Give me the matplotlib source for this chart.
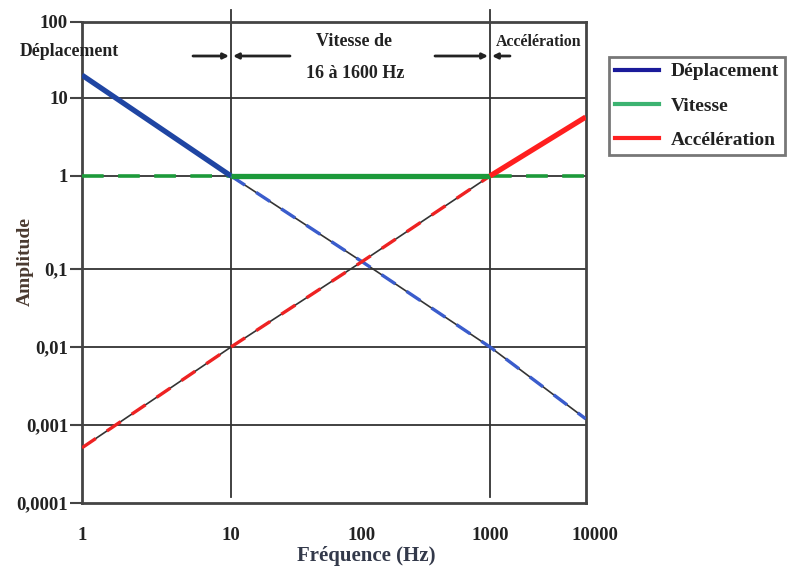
import numpy as np
import matplotlib
matplotlib.use("Agg")
import matplotlib.pyplot as plt
import matplotlib.transforms as mtransforms
from matplotlib.lines import Line2D

# ---- data ----
freq = [1, 10, 100, 1000, 10000]
deplacement = [20, 1, 0.12, 0.01, 0.0012]
vitesse = [1, 1, 1, 1, 1]
acceleration = [0.00051, 0.01, 0.12, 1, 5.7]
x_ticks = [1, 10, 100, 1000, 10000]
x_ticklabels = ["1", "10", "100", "1000", "10000"]
y_ticks = [1e-4, 1e-3, 1e-2, 1e-1, 1, 10, 100]
y_ticklabels = ["0,0001", "0,001", "0,01", "0,1", "1", "10", "100"]
zone_edges = [10, 1000]
legend_labels = ["Déplacement", "Vitesse", "Accélération"]

# non-uniform decade spacing of the original drawing
xdec = [0, 1, 2, 3, 4]
xpos = [82, 231, 362, 490, 585.7]
ydec = [-4, -3, -2, -1, 0, 1, 2]
ypos = [-503, -425, -347, -269, -176, -98, -22]

def fx(v):
    return np.interp(np.log10(np.clip(v, 1e-12, None)), xdec, xpos)
def ifx(p):
    return 10 ** np.interp(p, xpos, xdec)
def fy(v):
    return np.interp(np.log10(np.clip(v, 1e-12, None)), ydec, ypos)
def ify(p):
    return 10 ** np.interp(p, ypos, ydec)

plt.rcParams['font.family'] = ['Liberation Serif', 'DejaVu Serif']
plt.rcParams['font.weight'] = 'bold'

fig = plt.figure(figsize=(7.89, 5.70), dpi=100)
L, R, T, B = 82, 585.7, 22, 503
ax = fig.add_axes([L / 789, 1 - B / 570, (R - L) / 789, (B - T) / 570])
ax.set_xscale('function', functions=(fx, ifx))
ax.set_yscale('function', functions=(fy, ify))
ax.set_xlim(1, 10000)
ax.set_ylim(1e-4, 100)

for s in ax.spines.values():
    s.set_color('#444444')
    s.set_linewidth(2)

# grid lines
for yv in [10, 1, 0.1, 0.01, 0.001]:
    ax.axhline(yv, color='#333333', lw=1.3, zorder=1)
for xv in zone_edges:
    ax.axvline(xv, ymin=0.0125, ymax=1.025, color='#333333', lw=1.3,
               clip_on=False, zorder=1)

blue = '#1f45a3'
green = '#1c9a3a'
red = '#ff1f1f'

# thin dashed extensions (black line with coloured dashes)
ax.plot(freq[1:], deplacement[1:], color='#333333', lw=1.2, zorder=2)
ax.plot(freq[1:], deplacement[1:], color='#3a5ccc', lw=2.4, ls=(0, (5, 4)), zorder=3)
ax.plot(freq[:4], acceleration[:4], color='#333333', lw=1.2, zorder=2)
ax.plot(freq[:4], acceleration[:4], color='#ee2222', lw=2.4, ls=(0, (5, 4)), zorder=3)
ax.plot(freq[:2], vitesse[:2], color=green, lw=2.6, ls=(0, (6, 4)), zorder=3)
ax.plot(freq[3:], vitesse[3:], color=green, lw=2.6, ls=(0, (6, 4)), zorder=3)

# thick solid segments
ax.plot(freq[:2], deplacement[:2], color=blue, lw=3.8, zorder=4, solid_capstyle='butt')
ax.plot(freq[1:4], vitesse[1:4], color=green, lw=3.8, zorder=4, solid_capstyle='butt')
ax.plot(freq[3:], acceleration[3:], color=red, lw=3.8, zorder=4, solid_capstyle='butt')

ax.set_xticks(x_ticks)
ax.set_xticklabels(x_ticklabels)
ax.set_yticks(y_ticks)
ax.set_yticklabels(y_ticklabels)
ax.minorticks_off()
ax.tick_params(axis='x', length=0, pad=17, labelsize=13.5, colors='#222222')
ax.tick_params(axis='y', length=9, width=1.5, color='#444444', pad=1,
               labelsize=13.5, labelcolor='#222222')
# last x label sits slightly right of the axis end in the original
lab = ax.get_xticklabels()[-1]
lab.set_transform(lab.get_transform() +
                  mtransforms.ScaledTranslation(9 / 100, 0, fig.dpi_scale_trans))

# axis labels
fig.text(25 / 789, 1 - 262 / 570, "Amplitude", rotation=90, ha='center', va='center',
         fontsize=14, fontweight='bold', color='#4a3a30')
fig.text(366 / 789, 1 - 556 / 570, "Fréquence (Hz)", ha='center', va='center',
         fontsize=15, fontweight='bold', color='#33394a')

# zone annotations
fig.text(69 / 789, 1 - 52 / 570, "Déplacement", ha='center', va='center',
         fontsize=12.8, fontweight='bold', color='#222222')
fig.text(354 / 789, 1 - 42 / 570, "Vitesse de", ha='center', va='center',
         fontsize=13, fontweight='bold', color='#222222')
fig.text(355 / 789, 1 - 73 / 570, "16 à 1600 Hz", ha='center', va='center',
         fontsize=13, fontweight='bold', color='#222222')
fig.text(539 / 789, 1 - 42 / 570, "Accélération", ha='center', va='center',
         fontsize=11.4, fontweight='bold', color='#222222')

def arrow(x0, x1, ypx):
    fig.add_artist(matplotlib.patches.FancyArrowPatch(
        (x0 / 789, 1 - ypx / 570), (x1 / 789, 1 - ypx / 570),
        transform=fig.transFigure, arrowstyle='-|>', mutation_scale=8,
        color='#222222', lw=2, shrinkA=0, shrinkB=0))

arrow(193, 229, 56)
arrow(290, 233, 56)
arrow(435, 488, 56)
arrow(510, 492, 56)

# legend
handles = [Line2D([], [], color='#1a1a9a', lw=3),
           Line2D([], [], color='#3cb371', lw=3),
           Line2D([], [], color='#ff2020', lw=3)]
leg = fig.legend(handles, legend_labels, loc='upper right',
                 bbox_to_anchor=(785 / 789, 1 - 57 / 570), fancybox=False,
                 frameon=True, edgecolor='#555555', fontsize=14,
                 handlelength=2.3, handletextpad=0.6, labelspacing=0.85,
                 borderpad=0.3, borderaxespad=0)
leg.get_frame().set_linewidth(2)
for t in leg.get_texts():
    t.set_fontweight('bold')
    t.set_color('#222222')

fig.savefig('out.png', dpi=100)
